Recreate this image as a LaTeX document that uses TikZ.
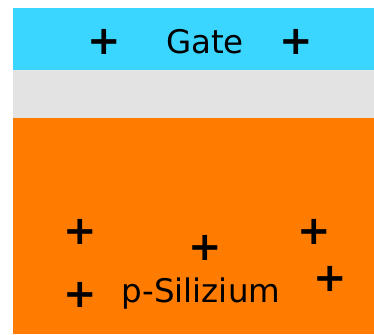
\documentclass[tikz,border=0pt]{standalone}
\usepackage{fontspec}
\setmainfont{DejaVu Sans}
\newfontfamily\plusfont{DejaVu Sans Bold}
\definecolor{gatecyan}{RGB}{58,214,255}
\definecolor{oxidgray}{RGB}{227,227,227}
\definecolor{siorange}{RGB}{255,124,0}
\begin{document}
\begin{tikzpicture}[x=1pt,y=-1pt,
  charge/.style={inner sep=0pt,font=\plusfont\fontsize{40}{40}\selectfont},
  label/.style={inner sep=0pt,anchor=base,font=\fontsize{32.5}{36}\selectfont}]
\useasboundingbox (0,0) rectangle (374,334);
\fill[gatecyan] (13,8) rectangle (374,70.5);
\fill[oxidgray] (13,70.5) rectangle (374,118);
\fill[siorange] (13,118) rectangle (374,334);
\node[label] (gate) at (205,53.3) {Gate};
\node[label] (si) at (201,302.7) {p-Silizium};
\node[charge] (g1) at (104,42) {+};
\node[charge] (g2) at (296,42) {+};
\node[charge] (s1) at (80,232) {+};
\node[charge] (s2) at (80,295) {+};
\node[charge] (s3) at (205,248) {+};
\node[charge] (s4) at (314.5,232) {+};
\node[charge] (s5) at (330,279) {+};
\end{tikzpicture}
\end{document}
